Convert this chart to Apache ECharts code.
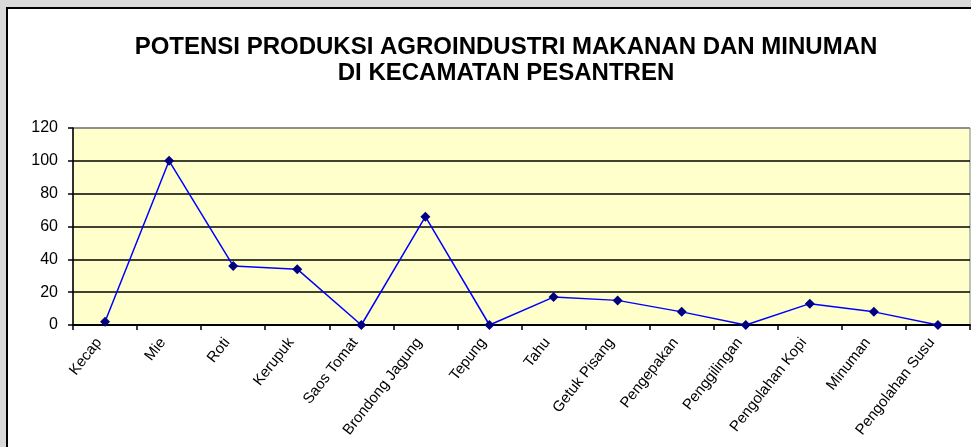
<!DOCTYPE html>
<html>
<head>
<meta charset="utf-8">
<script src="https://cdn.jsdelivr.net/npm/echarts@6/dist/echarts.min.js"></script>
<style>
  html, body { margin: 0; padding: 0; width: 971px; height: 447px; overflow: hidden; background: #d9d9d9; }
  /* bingkai grafik, sisi kanan & bawah di luar layar */
  #frame { position: absolute; left: 6px; top: 7px; width: 996px; height: 460px; border: 2px solid #000; background: #fff; }
  #chart { width: 996px; height: 460px; }
</style>
</head>
<body>
<div id="frame"><div id="chart"></div></div>
<script>
  // data
  var categories = ['Kecap', 'Mie', 'Roti', 'Kerupuk', 'Saos Tomat', 'Brondong Jagung', 'Tepung', 'Tahu',
    'Getuk Pisang', 'Pengepakan', 'Penggilingan', 'Pengolahan Kopi', 'Minuman', 'Pengolahan Susu'];
  var potensi = [2, 100, 36, 34, 0, 66, 0, 17, 15, 8, 0, 13, 8, 0];
  var yTicks = [0, 20, 40, 60, 80, 100, 120];

  var font = 'Liberation Sans, Arial, sans-serif';
  var chartObj = echarts.init(document.getElementById('chart'));
  var option = {
    animation: false,
    title: {
      text: 'POTENSI PRODUKSI AGROINDUSTRI MAKANAN DAN MINUMAN\nDI KECAMATAN PESANTREN',
      left: 'center',
      top: 20,
      textStyle: { fontFamily: font, fontSize: 24, fontWeight: 'bold', color: '#000', lineHeight: 26, align: 'center' }
    },
    grid: {
      left: 65, top: 119, width: 897, height: 197,
      show: true,
      backgroundColor: '#FFFFCC',
      borderColor: '#808080',
      borderWidth: 1
    },
    xAxis: {
      type: 'category',
      data: categories,
      boundaryGap: true,
      axisLine: { lineStyle: { color: '#000', width: 2 } },
      axisTick: { show: true, alignWithLabel: false, length: 5, lineStyle: { color: '#000', width: 1.5 } },
      axisLabel: { interval: 0, rotate: 52, fontFamily: font, fontSize: 15, color: '#000', margin: 7, padding: [0, 10, 0, 0] }
    },
    yAxis: {
      type: 'value',
      min: yTicks[0],
      max: yTicks[yTicks.length - 1],
      interval: 20,
      axisLine: { show: true, lineStyle: { color: '#000', width: 1.5 } },
      axisTick: { show: true, length: 5, lineStyle: { color: '#000', width: 1.5 } },
      axisLabel: { fontFamily: font, fontSize: 16, color: '#000', margin: 15 },
      splitLine: { show: true, lineStyle: { color: ['#000', '#000', '#000', '#000', '#000', '#000', '#808080'], width: 1.5 } }
    },
    series: [{
      type: 'line',
      data: potensi,
      symbol: 'diamond',
      symbolSize: 10,
      lineStyle: { color: '#0000FF', width: 1.5 },
      itemStyle: { color: '#000080' }
    }]
  };
  chartObj.setOption(option);
</script>
</body>
</html>
